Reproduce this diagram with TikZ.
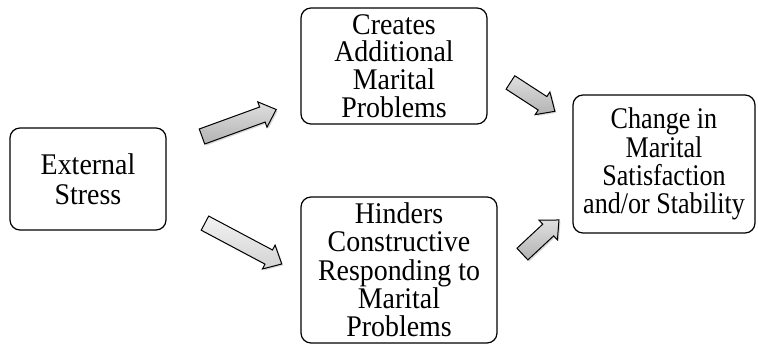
\documentclass[tikz,border=0pt]{standalone}
\usepackage{fontspec}
\setmainfont{Liberation Serif}
\newfontfamily\boxfont{Liberation Serif}[FakeStretch=0.93]
\newfontfamily\changefont{Liberation Serif}[FakeStretch=0.87]
\usepackage{tikz}
\usetikzlibrary{shapes.arrows,shadows}

\begin{document}
\begin{tikzpicture}[x=1pt, y=-1pt,
        box/.style={draw, line width=1.2pt, rounded corners=10pt, align=center, inner sep=0pt},
        blockarrow/.style={single arrow, draw, line width=1pt, inner xsep=0pt, inner ysep=7.5pt,
            single arrow head extend=5.5pt, single arrow tip angle=85,
            top color=gray!25, bottom color=gray!60,
            drop shadow={shadow xshift=1.5pt, shadow yshift=-1.5pt, opacity=0.3}}]
        \useasboundingbox (0, 0) rectangle (758, 346);

        \node[box, minimum width=156pt, minimum height=102pt, font=\boxfont\fontsize{30}{30}\selectfont] (stress) at (88, 179) {External\\Stress};
        \node[box, minimum width=186pt, minimum height=116pt, font=\boxfont\fontsize{30}{27.7}\selectfont] (creates) at (394, 66) {Creates\\Additional\\Marital\\Problems};
        \node[box, minimum width=196pt, minimum height=146pt, font=\boxfont\fontsize{30}{28.3}\selectfont] (hinders) at (399, 270) {Hinders\\Constructive\\Responding to\\Marital\\Problems};
        \node[box, minimum width=182pt, minimum height=138pt, font=\changefont\fontsize{30}{28.3}\selectfont] (change) at (664, 164) {Change in\\Marital\\Satisfaction\\and/or Stability};

        \node[blockarrow, rotate=20, minimum height=79pt] (stresscreates) at (235, 124.5) {};
        \node[blockarrow, rotate=-28, minimum height=87pt, top color=gray!10, bottom color=gray!35] (stresshinders) at (239.5, 241.5) {};
        \node[blockarrow, rotate=-33, minimum height=53pt] (createschange) at (529, 94.5) {};
        \node[blockarrow, rotate=43, minimum height=50pt] (hinderschange) at (537.5, 240) {};
    \end{tikzpicture}
\end{document}
